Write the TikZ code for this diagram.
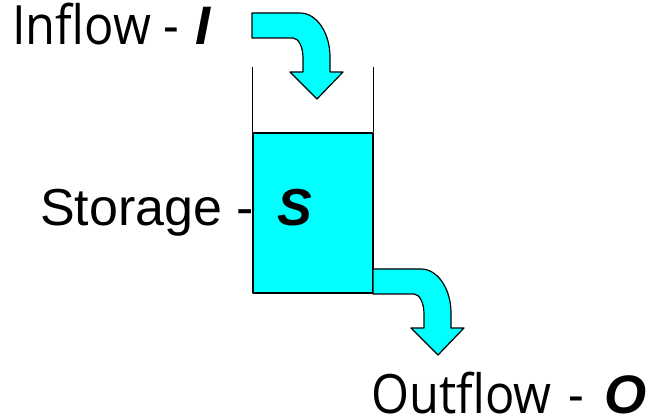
\documentclass[tikz,border=0pt]{standalone}
\usepackage{fontspec}
\setmainfont{Liberation Sans}
\newfontfamily\flowfont[FakeStretch=0.9]{Open Sans}
\newfontfamily\symfont{Liberation Sans}
\definecolor{aqua}{RGB}{0,255,255}
\newcommand\flowsym[1]{{\symfont\fontsize{54.2}{60}\selectfont\bfseries\itshape #1}}
\begin{document}
\begin{tikzpicture}[x=1pt, y=-1pt,
  outline/.style={draw=black, line width=1.2pt, line join=round},
  water/.style={outline, fill=aqua},
  flowtext/.style={anchor=base west, inner sep=0pt, font=\flowfont\fontsize{54.2}{60}\selectfont},
  storetext/.style={anchor=base west, inner sep=0pt, font=\fontsize{52}{58}\selectfont},
  bentarrow/.pic={
    \draw[water] (0,0) -- (48,0)
      .. controls (64.6,0) and (78,19.7) .. (78,44)
      -- (78,59) -- (91,59) -- (65,86) -- (38,59) -- (51,59) -- (51,45)
      .. controls (51,34) and (46.5,25) .. (41,25)
      -- (0,25) -- cycle;
  }]
  \useasboundingbox (0,0) rectangle (650,419);

  % tank walls and stored water
  \node (tank) [water, minimum width=120pt, minimum height=160pt, inner sep=0pt] at (313,213) {};
  \draw[outline] (tank.north west) -- ++(0,-65);
  \draw[outline] (tank.north east) -- ++(0,-65);

  % inflow and outflow arrows
  \pic at (252,13) {bentarrow};
  \pic at (373,269) {bentarrow};

  % labels
  \node (inflow) [flowtext] at (12,45) {Inflow\hspace{12pt}-\hspace{17pt}\flowsym{I}};
  \node (storage) [storetext] at (40,226) {Storage -\hspace{23pt}{\bfseries\itshape S}};
  \node (outflow) [flowtext] at (371,413) {Outflow\hspace{17pt}-\hspace{20pt}\flowsym{O}};
\end{tikzpicture}
\end{document}
